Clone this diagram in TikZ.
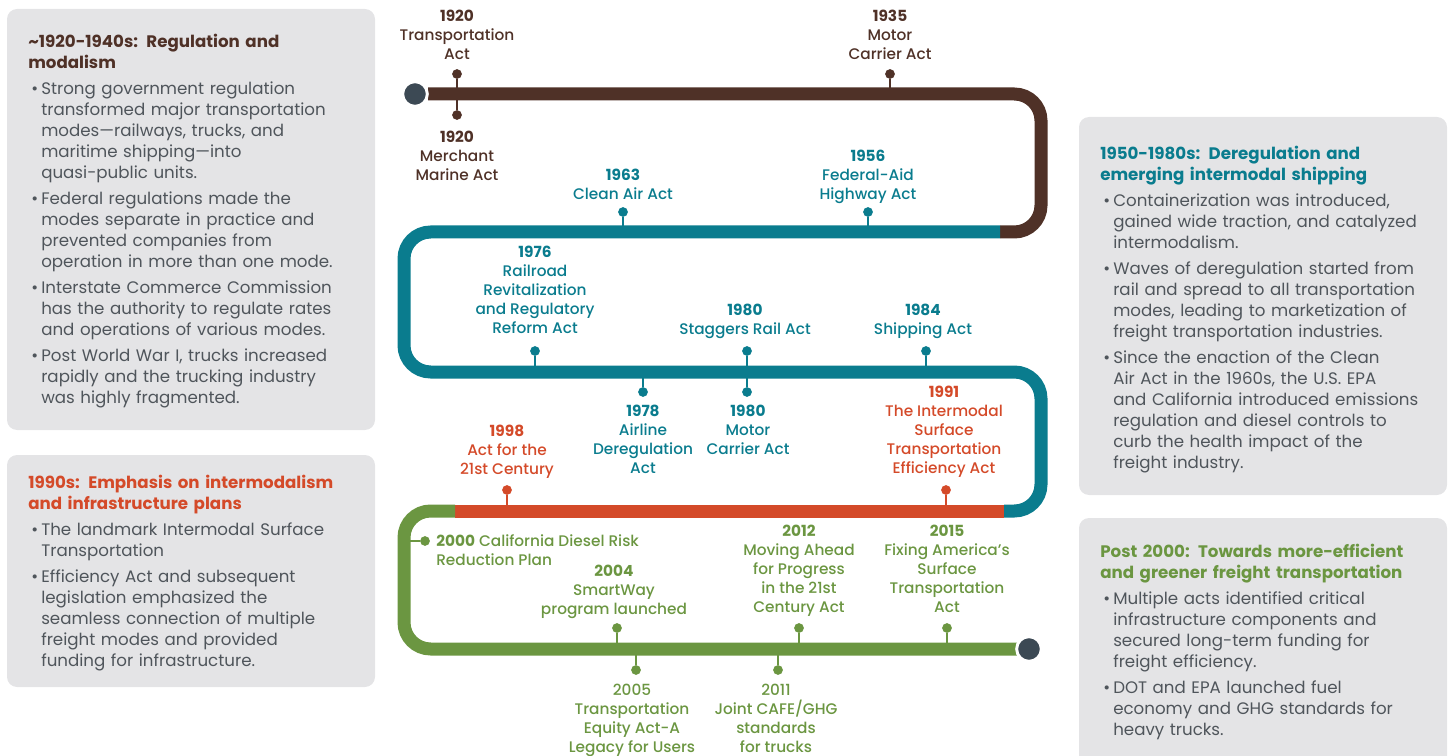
\documentclass[tikz,border=0pt]{standalone}
\usepackage{fontspec}
\setmainfont{Poppins}
\newfontfamily\labfont{Poppins}[UprightFont=* Medium, BoldFont=* Bold]
\definecolor{brownc}{HTML}{4F3127}
\definecolor{tealc}{HTML}{0A7C8E}
\definecolor{orangec}{HTML}{D44A29}
\definecolor{greenc}{HTML}{6B9641}
\definecolor{darkc}{HTML}{3C4954}
\definecolor{boxgray}{HTML}{E4E4E6}
\definecolor{bodyc}{HTML}{4F555B}
\newcommand{\bitem}{\par\addvspace{3.75pt}\hangindent=9.75pt\hangafter=1\noindent\hspace*{2.25pt}\makebox[7.5pt][l]{\textbullet}}
\newcommand{\tilda}{{\char"7E}}
\tikzset{
  panel/.style={fill=boxgray, rounded corners=7.5pt},
  boxtext/.style={anchor=north west, inner sep=0pt, text width=262pt, align=left, text=bodyc,
    font=\fontsize{12.5pt}{15.75pt}\selectfont},
  track/.style={line width=9.75pt},
  lbl/.style={anchor=north, inner sep=0pt, align=center, font=\labfont\fontsize{11.5pt}{14.25pt}\selectfont},
  tdot/.style={circle, fill, inner sep=0pt, minimum size=7.3pt},
  stem/.style={line width=1.8pt},
  endpt/.style={circle, fill=darkc, draw=white, line width=2.2pt, inner sep=0pt, minimum size=18.5pt},
}
\begin{document}
\begin{tikzpicture}[x=0.75pt,y=-0.75pt]
\useasboundingbox (0,0) rectangle (1454,756);
\clip (0,0) rectangle (1454,756);

% panels
\path[panel] (7,9) rectangle (375,430);
\path[panel] (7,455) rectangle (375,687);
\path[panel] (1079,117) rectangle (1447,495);
\path[panel] (1079,518) rectangle (1447,790);

% panel texts
\node[boxtext] (p1) at (28,34) {{\bfseries\color{brownc}\tilda 1920-1940s: Regulation and\newline modalism}
\bitem Strong government regulation\newline transformed major transportation\newline modes—railways, trucks, and\newline maritime shipping—into\newline quasi-public units.
\bitem Federal regulations made the\newline modes separate in practice and\newline prevented companies from\newline operation in more than one mode.
\bitem Interstate Commerce Commission\newline has the authority to regulate rates\newline and operations of various modes.
\bitem Post World War I, trucks increased\newline rapidly and the trucking industry\newline was highly fragmented.\par};

\node[boxtext] (p2) at (28,475) {{\bfseries\color{orangec}1990s: Emphasis on intermodalism\newline and infrastructure plans}
\bitem The landmark Intermodal Surface\newline Transportation
\bitem Efficiency Act and subsequent\newline legislation emphasized the\newline seamless connection of multiple\newline freight modes and provided\newline funding for infrastructure.\par};

\node[boxtext] (p3) at (1100,146) {{\bfseries\color{tealc}1950-1980s: Deregulation and\newline emerging intermodal shipping}
\bitem Containerization was introduced,\newline gained wide traction, and catalyzed\newline intermodalism.
\bitem Waves of deregulation started from\newline rail and spread to all transportation\newline modes, leading to marketization of\newline freight transportation industries.
\bitem Since the enaction of the Clean\newline Air Act in the 1960s, the U.S. EPA\newline and California introduced emissions\newline regulation and diesel controls to\newline curb the health impact of the\newline freight industry.\par};

\node[boxtext] (p4) at (1100,544) {{\bfseries\color{greenc}Post 2000: Towards more-efficient\newline and greener freight transportation}
\bitem Multiple acts identified critical\newline infrastructure components and\newline secured long-term funding for\newline freight efficiency.
\bitem DOT and EPA launched fuel\newline economy and GHG standards for\newline heavy trucks.\par};

% track
\draw[track, brownc, rounded corners=20pt] (428,94) -- (1041,94) -- (1041,232) -- (1000,232);
\draw[track, tealc, rounded corners=20pt] (1000,232) -- (404,232) -- (404,372) -- (1041,372) -- (1041,511) -- (1004,511);
\draw[track, orangec] (1004,511) -- (455,511);
\draw[track, greenc, rounded corners=20pt] (455,511) -- (404,511) -- (404,649) -- (1018,649);
\node[endpt] (start) at (415,94) {};
\node[endpt] (finish) at (1029,649) {};

% markers: dot, anchor on track, stem
\foreach \n/\x/\y/\ly/\c in {a1920/457/74/94/brownc, b1920/457/115/94/brownc, m1935/890/74/94/brownc,
  m1963/623/212/232/tealc, m1956/868/212/232/tealc,
  m1976/535/351/372/tealc, s1980/747/351/372/tealc, m1984/926/351/372/tealc,
  m1978/643/392/372/tealc, c1980/747/392/372/tealc,
  m1991/946/490/511/orangec, m1998/507/490/511/orangec,
  m2004/617/628/649/greenc, m2012/799/628/649/greenc, m2015/947/628/649/greenc,
  m2005/636/670/649/greenc, m2011/778/670/649/greenc}{
  \node[tdot, \c] (d\n) at (\x,\y) {};
  \coordinate (l\n) at (\x,\ly);
  \draw[stem, \c] (d\n) -- (l\n);
}
\node[tdot, greenc] (dm2000) at (425,541) {};
\coordinate (lm2000) at (404,541);
\draw[stem, greenc] (dm2000) -- (lm2000);

% labels
\node[lbl, text=brownc] (ta1920) at (457,10) {\textbf{1920}\\Transportation\\Act};
\node[lbl, text=brownc] (tm1935) at (890,10) {\textbf{1935}\\Motor\\Carrier Act};
\node[lbl, text=brownc] (tb1920) at (457,131) {\textbf{1920}\\Merchant\\Marine Act};
\node[lbl, text=tealc] (tm1963) at (623,169) {\textbf{1963}\\Clean Air Act};
\node[lbl, text=tealc] (tm1956) at (868,150) {\textbf{1956}\\Federal-Aid\\Highway Act};
\node[lbl, text=tealc] (tm1976) at (535,246) {\textbf{1976}\\Railroad\\Revitalization\\and Regulatory\\Reform Act};
\node[lbl, text=tealc] (ts1980) at (745,304) {\textbf{1980}\\Staggers Rail Act};
\node[lbl, text=tealc] (tm1984) at (923,304) {\textbf{1984}\\Shipping Act};
\node[lbl, text=tealc] (tm1978) at (643,405) {\textbf{1978}\\Airline\\Deregulation\\Act};
\node[lbl, text=tealc] (tc1980) at (748,405) {\textbf{1980}\\Motor\\Carrier Act};
\node[lbl, text=orangec] (tm1991) at (944,386) {\textbf{1991}\\The Intermodal\\Surface\\Transportation\\Efficiency Act};
\node[lbl, text=orangec] (tm1998) at (507,425) {\textbf{1998}\\Act for the\\21st Century};
\node[lbl, text=greenc, anchor=north west, align=left] (tm2000) at (436,534) {\textbf{2000} California Diesel Risk\\Reduction Plan};
\node[lbl, text=greenc] (tm2004) at (614,565) {\textbf{2004}\\SmartWay\\program launched};
\node[lbl, text=greenc] (tm2012) at (799,525) {\textbf{2012}\\Moving Ahead\\for Progress\\in the 21st\\Century Act};
\node[lbl, text=greenc] (tm2015) at (947,525) {\textbf{2015}\\Fixing America’s\\Surface\\Transportation\\Act};
\node[lbl, text=greenc] (tm2005) at (632,684) {2005\\Transportation\\Equity Act-A\\Legacy for Users};
\node[lbl, text=greenc] (tm2011) at (776,684) {2011\\Joint CAFE/GHG\\standards\\for trucks};
\end{tikzpicture}
\end{document}
